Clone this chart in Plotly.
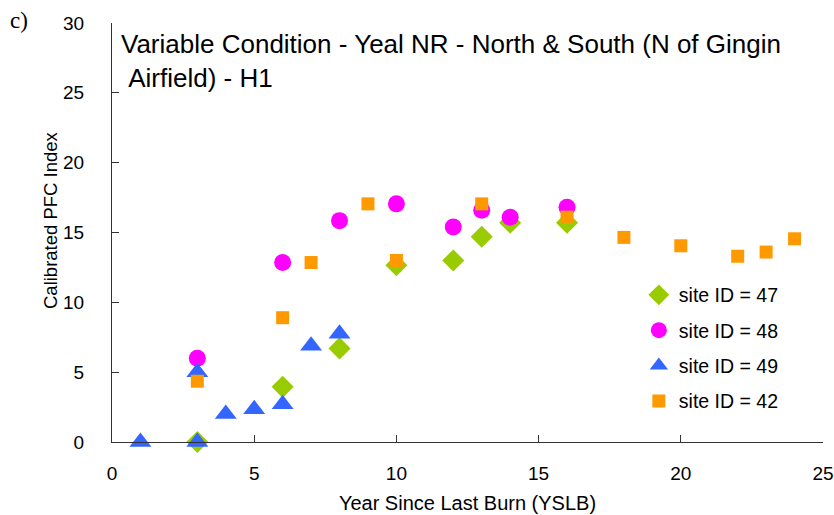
import plotly.graph_objects as go

# Calibrated PFC index by years since last burn, one series per site
site47_yslb = [3, 6, 8, 10, 12, 13, 14, 16]
site47_pfc = [0.0, 3.95, 6.7, 12.65, 13.0, 14.7, 15.7, 15.7]

site48_yslb = [3, 6, 8, 10, 12, 13, 14, 16]
site48_pfc = [6.0, 12.85, 15.85, 17.05, 15.4, 16.6, 16.1, 16.8]

site49_yslb = [1, 3, 3, 4, 5, 6, 7, 8]
site49_pfc = [0.0, 0.0, 5.0, 2.0, 2.35, 2.7, 6.9, 7.75]

site42_yslb = [3, 6, 7, 9, 10, 13, 16, 18, 20, 22, 23, 24]
site42_pfc = [4.35, 8.9, 12.85, 17.05, 13.0, 17.05, 16.1, 14.65, 14.05, 13.3, 13.6, 14.55]

x_ticks = [0, 5, 10, 15, 20, 25]
y_ticks = [0, 5, 10, 15, 20, 25, 30]

FONT = "Liberation Sans, Arial, sans-serif"

series = [
    ("site ID = 47", site47_yslb, site47_pfc, "diamond", 17, "#99CC00"),
    ("site ID = 48", site48_yslb, site48_pfc, "circle", 17, "#FF00FF"),
    ("site ID = 49", site49_yslb, site49_pfc, "triangle-up", 19, "#3366FF"),
    ("site ID = 42", site42_yslb, site42_pfc, "square", 13, "#FF9900"),
]

fig = go.Figure()
for i, (name, xs, ys, sym, size, color) in enumerate(series):
    fig.add_trace(go.Scatter(
        x=xs, y=ys, mode="markers", name=name,
        legendgroup=f"g{i}",
        marker=dict(symbol=sym, size=size, color=color, line=dict(width=0)),
        cliponaxis=False,
    ))

axis_common = dict(
    showgrid=False, zeroline=False, showline=True, automargin=False,
    linecolor="#333333", linewidth=1,
    ticks="inside", ticklen=7, tickwidth=1, tickcolor="#333333",
    tickfont=dict(family=FONT, size=19, color="black"),
)

fig.update_layout(
    width=834, height=515,
    margin=dict(l=112, r=11, t=23, b=73, autoexpand=False),
    paper_bgcolor="white", plot_bgcolor="white",
    font=dict(family=FONT, color="black"),
    xaxis=dict(
        range=[0, 25], tickvals=x_ticks, ticklabelstandoff=14,
        title=dict(text="Year Since Last Burn (YSLB)",
                   font=dict(family=FONT, size=20), standoff=13),
        **axis_common,
    ),
    yaxis=dict(
        range=[0, 30], tickvals=y_ticks, ticklabelstandoff=23,
        **axis_common,
    ),
    legend=dict(
        x=0.741, y=0.397, xanchor="left", yanchor="top",
        font=dict(family=FONT, size=19.5, color="black"),
        tracegroupgap=7, bgcolor="rgba(0,0,0,0)",
    ),
    annotations=[
        dict(text="Variable Condition - Yeal NR - North &amp; South (N of Gingin<br>\u00a0Airfield) - H1",
             xref="paper", yref="paper", x=0.010, y=0.99,
             xanchor="left", yanchor="top", align="left", showarrow=False,
             font=dict(family=FONT, size=26, color="black")),
        dict(text="Calibrated PFC Index", textangle=-90,
             xref="paper", yref="paper", x=(50 - 112) / 711, y=(442 - 220) / 419,
             xanchor="center", yanchor="middle", showarrow=False,
             font=dict(family=FONT, size=18.5, color="black")),
        dict(text="c)", xref="paper", yref="paper",
             x=(8 - 112) / 711, y=(442 - 6) / 419,
             xanchor="left", yanchor="top", showarrow=False,
             font=dict(family="Liberation Serif, Times New Roman, serif", size=23, color="black")),
    ],
)

fig.write_html("out.html")
